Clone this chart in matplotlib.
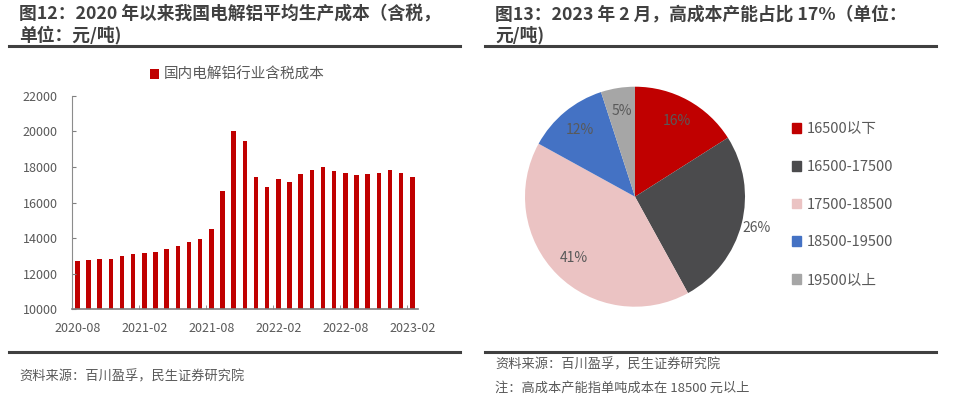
import matplotlib
matplotlib.use("Agg")
import matplotlib.pyplot as plt
from matplotlib.lines import Line2D
import numpy as np

plt.rcParams['font.family'] = ['Noto Sans CJK SC', 'DejaVu Sans']

# ---------------- data ----------------
months = ['2020-08', '2020-09', '2020-10', '2020-11', '2020-12', '2021-01', '2021-02',
          '2021-03', '2021-04', '2021-05', '2021-06', '2021-07', '2021-08', '2021-09',
          '2021-10', '2021-11', '2021-12', '2022-01', '2022-02', '2022-03', '2022-04',
          '2022-05', '2022-06', '2022-07', '2022-08', '2022-09', '2022-10', '2022-11',
          '2022-12', '2023-01', '2023-02']
cost = [12710, 12790, 12830, 12810, 12980, 13130, 13180, 13200, 13370, 13580, 13800,
        13970, 14530, 16670, 20040, 19440, 17420, 16890, 17300, 17150, 17620, 17810,
        18000, 17770, 17640, 17530, 17580, 17660, 17810, 17660, 17420]
bar_legend = '国内电解铝行业含税成本'
yticks = [10000, 12000, 14000, 16000, 18000, 20000, 22000]
xtick_labels = ['2020-08', '2021-02', '2021-08', '2022-02', '2022-08', '2023-02']

pie_labels = ['16500以下', '16500-17500', '17500-18500', '18500-19500', '19500以上']
pie_values = [16, 26, 41, 12, 5]
pie_colors = ['#C00000', '#4B4B4D', '#EBC3C3', '#4472C4', '#A6A6A6']

title_left = ['图12：2020 年以来我国电解铝平均生产成本（含税，', '单位：元/吨)']
title_right = ['图13：2023 年 2 月，高成本产能占比 17%（单位：', '元/吨)']
source = '资料来源：百川盈孚，民生证券研究院'
note = '注：高成本产能指单吨成本在 18500 元以上'

W, H = 955, 396
fig = plt.figure(figsize=(W / 100, H / 100), dpi=100)

def fx(px):
    return px / W

def fy(py):
    return 1 - py / H

title_color = '#404040'
text_color = '#595959'

# ---------------- titles & rules ----------------
for i, line in enumerate(title_left):
    fig.text(fx(19), fy(14 + 21 * i), line, fontsize=12.8, fontweight='bold',
             color=title_color, va='center', ha='left')
for i, line in enumerate(title_right):
    fig.text(fx(495), fy(14 + 21 * i), line, fontsize=12.8, fontweight='bold',
             color=title_color, va='center', ha='left')

for (x0, x1) in [(9, 460), (485, 936)]:
    for yy in (45.7, 352):
        fig.add_artist(Line2D([fx(x0), fx(x1)], [fy(yy), fy(yy)], color='#404040',
                              lw=2.2, transform=fig.transFigure))

fig.text(fx(19), fy(377), source, fontsize=9.5, color=text_color, va='center', ha='left')
fig.text(fx(495), fy(365), source, fontsize=9.5, color=text_color, va='center', ha='left')
fig.text(fx(495), fy(388), note, fontsize=9.5, color=text_color, va='center', ha='left')

# ---------------- bar chart ----------------
ax = fig.add_axes([fx(71.7), fy(309.3), fx(418) - fx(71.7), fy(95.7) - fy(309.3)])
x = np.arange(len(months))
ax.bar(x, cost, width=0.4, color='#C00000', label=bar_legend)
ax.set_ylim(10000, 22000)
ax.set_xlim(-0.5, len(months) - 0.5)
ax.set_yticks(yticks)
ax.set_yticklabels([str(v) for v in yticks])
pos = [months.index(m) for m in xtick_labels]
ax.set_xticks(pos)
ax.set_xticklabels(xtick_labels)
ax.set_xticks([p + 5.5 for p in pos[:-1]], minor=True)
ax.tick_params(axis='x', which='major', length=0, pad=9, labelsize=9, labelcolor=text_color)
ax.tick_params(axis='x', which='minor', direction='in', length=3, color='#808080')
ax.tick_params(axis='y', direction='in', length=3, color='#808080', pad=10,
               labelsize=9, labelcolor=text_color)
for s in ('top', 'right'):
    ax.spines[s].set_visible(False)
ax.spines['left'].set_color('#8c8c8c')
ax.spines['bottom'].set_color('#7f7f7f')
ax.spines['bottom'].set_linewidth(1.2)
ax.legend(loc='center', bbox_to_anchor=(fx(237), fy(75)), bbox_transform=fig.transFigure,
          frameon=False, fontsize=10.5, handlelength=0.65, handleheight=0.65,
          handletextpad=0.3, labelcolor=text_color, borderpad=0)

# ---------------- pie chart ----------------
R = 110
pax = fig.add_axes([fx(635 - R), fy(196.7 + R), fx(2 * R), fy(196.7 - R) - fy(196.7 + R)])
wedges, _ = pax.pie(pie_values, colors=pie_colors, startangle=90, counterclock=False,
                    radius=1.0)
pax.set_xlim(-1, 1)
pax.set_ylim(-1, 1)
for w, v in zip(wedges, pie_values):
    ang = np.deg2rad((w.theta1 + w.theta2) / 2)
    r = 1.14 if v == 26 else 0.79
    pax.text(r * np.cos(ang), r * np.sin(ang), f'{v}%', ha='center', va='center',
             fontsize=10, color=text_color)

handles = [plt.Rectangle((0, 0), 1, 1, color=c) for c in pie_colors]
fig.legend(handles, pie_labels, loc='upper left', bbox_to_anchor=(fx(792), fy(122)),
           frameon=False, fontsize=10.5, handlelength=0.65, handleheight=0.65,
           handletextpad=0.35, labelspacing=1.63, labelcolor=text_color, borderpad=0,
           borderaxespad=0)

fig.savefig('out.png', dpi=100)
